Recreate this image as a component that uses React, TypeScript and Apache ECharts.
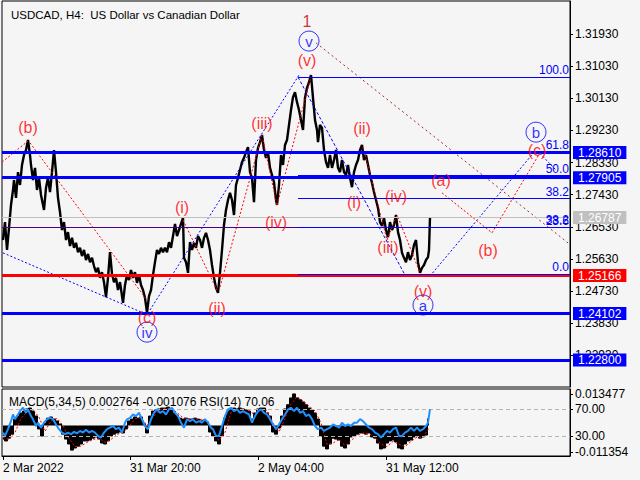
import React, { useEffect, useRef } from "react";
import * as echarts from "echarts";

const chartTitle = "USDCAD, H4:  US Dollar vs Canadian Dollar";
const indicatorTitle = "MACD(5,34,5) 0.002764 -0.001076 RSI(14) 70.06";

// time axis (bar positions) and labels
const dateTickBars = [3, 130, 258, 386];
const dateTickLabels = ["2 Mar 2022", "31 Mar 20:00", "2 May 04:00", "31 May 12:00"];
const priceTicks = [1.3193, 1.3103, 1.3013, 1.2923, 1.2833, 1.2743, 1.2653, 1.2563, 1.2473, 1.2383, 1.2293];
const firstBar = 2;
const lastBar = 570;

// price path [bar, price]
const pricePath: [number, number][] = [
  [3, 1.2616], [5, 1.2666], [7, 1.2588], [9, 1.265], [11, 1.2714], [13, 1.2756], [14, 1.2784], [16, 1.2734],
  [18, 1.2806], [20, 1.277], [22, 1.2826], [24, 1.2854], [26, 1.2868], [28, 1.2896], [30, 1.2854], [31, 1.2826],
  [33, 1.2784], [35, 1.2818], [37, 1.2756], [39, 1.279], [41, 1.2742], [43, 1.2714], [44, 1.27], [46, 1.2762],
  [48, 1.279], [50, 1.275], [52, 1.2806], [54, 1.2868], [56, 1.2806], [58, 1.2734], [60, 1.2694], [62, 1.2644],
  [64, 1.2666], [66, 1.2616], [68, 1.2638], [70, 1.2599], [72, 1.2622], [74, 1.2594], [76, 1.2608], [78, 1.2582],
  [80, 1.2594], [82, 1.2571], [84, 1.2588], [86, 1.256], [88, 1.2577], [90, 1.2554], [92, 1.2566], [94, 1.2543],
  [96, 1.2526], [98, 1.2538], [100, 1.251], [102, 1.2526], [104, 1.2498], [106, 1.2456], [108, 1.251], [110, 1.2582],
  [112, 1.2521], [114, 1.2498], [116, 1.251], [118, 1.2476], [120, 1.2498], [123, 1.244], [125, 1.249], [127, 1.2518],
  [129, 1.2504], [131, 1.2532], [133, 1.251], [135, 1.2526], [137, 1.2496], [139, 1.2518], [141, 1.249], [143, 1.2476],
  [145, 1.2454], [147, 1.2412], [149, 1.2459], [151, 1.2476], [153, 1.2518], [155, 1.2554], [157, 1.2588], [159, 1.2577],
  [161, 1.2594], [163, 1.2582], [165, 1.2594], [167, 1.2582], [169, 1.261], [171, 1.2594], [173, 1.2627], [175, 1.2661],
  [177, 1.2627], [179, 1.2644], [181, 1.2661], [183, 1.2678], [184, 1.2566], [186, 1.2554], [188, 1.2524], [190, 1.261],
  [192, 1.2588], [194, 1.2608], [196, 1.2594], [198, 1.2627], [200, 1.2616], [202, 1.2594], [204, 1.2622], [206, 1.2636],
  [208, 1.2616], [210, 1.2588], [212, 1.2546], [214, 1.251], [216, 1.2482], [218, 1.2468], [220, 1.2524], [222, 1.2588],
  [224, 1.2658], [226, 1.27], [228, 1.2728], [230, 1.2748], [232, 1.2728], [234, 1.2686], [236, 1.277], [238, 1.279],
  [240, 1.2812], [242, 1.2834], [244, 1.2846], [246, 1.2862], [248, 1.2876], [250, 1.2806], [252, 1.279], [254, 1.2722],
  [256, 1.284], [258, 1.2874], [260, 1.289], [262, 1.291], [264, 1.2868], [266, 1.2846], [268, 1.2862], [270, 1.2818],
  [272, 1.2798], [274, 1.2778], [276, 1.2728], [277, 1.2714], [279, 1.277], [281, 1.2854], [283, 1.2826], [285, 1.2882],
  [287, 1.2896], [289, 1.2938], [291, 1.298], [293, 1.3016], [295, 1.303], [297, 1.3002], [299, 1.298], [301, 1.2952],
  [303, 1.2924], [305, 1.3014], [307, 1.3042], [309, 1.3058], [311, 1.3078], [313, 1.3014], [315, 1.2952], [317, 1.2924],
  [318, 1.289], [320, 1.2938], [322, 1.293], [324, 1.2868], [326, 1.2834], [328, 1.2818], [330, 1.2854], [332, 1.2818],
  [334, 1.284], [336, 1.2868], [338, 1.2818], [340, 1.2806], [342, 1.284], [344, 1.2806], [346, 1.2798], [348, 1.2826],
  [350, 1.279], [352, 1.2764], [354, 1.2806], [356, 1.2826], [358, 1.284], [360, 1.2868], [362, 1.2882], [364, 1.284],
  [366, 1.2854], [368, 1.2826], [370, 1.2798], [372, 1.2776], [374, 1.275], [376, 1.2728], [378, 1.2706], [380, 1.2666],
  [382, 1.2655], [384, 1.2678], [386, 1.2644], [388, 1.2624], [390, 1.2666], [392, 1.2644], [394, 1.2658], [396, 1.2686],
  [398, 1.2638], [400, 1.2616], [402, 1.258], [404, 1.2566], [406, 1.2554], [408, 1.2582], [410, 1.256], [412, 1.2574],
  [414, 1.2602], [416, 1.2616], [418, 1.2554], [420, 1.2524], [422, 1.2538], [424, 1.2546], [426, 1.256], [428, 1.2568],
  [429, 1.2588], [430, 1.26787],
];

// horizontal levels
const levelPrices = [1.2861, 1.27905, 1.25166, 1.24102, 1.228];
const levelColors = ["#0000ff", "#0000ff", "#ff0000", "#0000ff", "#0000ff"];
const lastPrice = 1.26787;
const purpleLevel = 1.2653;
const purpleLevelText = "38.2";

// fibonacci grid
const fibStartBar = 298;
const fibEndBar = 570;
const fibLevels = [1.3072, 1.2862, 1.27965, 1.27315, 1.2651, 1.2521];
const fibLabels = ["100.0", "61.8", "50.0", "38.2", "23.6", "0.0"];

// wave lines
const blueWaves: [number, number][][] = [
  [[3, 1.258], [143, 1.2412]],
  [[150, 1.242], [300, 1.3082]],
  [[430, 1.2515], [533, 1.2858]],
  [[540, 1.2858], [556, 1.2812]],
];
const blueFallLine: [number, number][] = [[298, 1.3072], [405, 1.2518]];
const redWaves: [number, number][][] = [
  [[2, 1.2834], [28, 1.2893]],
  [[30, 1.2888], [147, 1.2448]],
  [[183, 1.2672], [218, 1.247]],
  [[220, 1.2484], [262, 1.291]],
  [[263, 1.2896], [277, 1.2714]],
  [[277, 1.2714], [311, 1.3072]],
  [[363, 1.2876], [387, 1.2616]],
  [[387, 1.2616], [397, 1.2686]],
  [[398, 1.268], [420, 1.2524]],
  [[442, 1.2748], [492, 1.2636], [540, 1.286]],
];
const channelLine: [number, number][] = [[316, 1.3168], [568, 1.2608]];

// wave labels
const redLabelText = ["(b)", "(c)", "(i)", "(ii)", "(iii)", "(iv)", "(v)", "(i)", "(ii)", "(iii)", "(iv)", "(v)", "(a)", "(b)", "(c)"];
const redLabelBar = [28, 147, 182, 217, 262, 276, 307, 354, 362, 388, 396, 423, 441, 488, 537];
const redLabelPrice = [1.2932, 1.2398, 1.2706, 1.2423, 1.2941, 1.2666, 1.312, 1.2722, 1.2927, 1.2596, 1.2739, 1.2473, 1.2784, 1.2588, 1.2868];
const degreeText = ["1"];
const degreeBar = [307];
const degreePrice = [1.3229];
const circleText = ["iv", "v", "a", "b"];
const circleBar = [147, 309, 423, 536];
const circlePrice = [1.2358, 1.3173, 1.2434, 1.2918];

// indicator panel
const macdHist = [
  -0.0058, -0.0066, -0.0054, -0.0037, 0.0027, 0.004, 0.0053, 0.0061, 0.007, 0.0074, 0.0061, 0.004, -0.0015, -0.0045,
  0.001, 0.0031, 0.0036, 0.0027, 0.0019, 0.0006, -0.0037, -0.0058, -0.0079, -0.0105, -0.0096, -0.0088, -0.0079, -0.0066,
  -0.0066, -0.0062, -0.0054, -0.0049, -0.0058, -0.0075, -0.0079, -0.0066, -0.0045, -0.0037, -0.0032, -0.0028, -0.0032,
  -0.0015, 0.0019, 0.0027, 0.0036, 0.0031, 0.0036, 0.0006, -0.0032, 0.004, 0.0061, 0.0066, 0.007, 0.0074, 0.0074, 0.0078,
  0.007, 0.0053, 0.0044, 0.0031, 0.0027, 0.0031, 0.0027, 0.0027, 0.0031, 0.0027, 0.0019, 0.0023, 0.0015, -0.0028, -0.0045,
  -0.0066, -0.0079, -0.0045, 0.0031, 0.0061, 0.007, 0.0074, 0.007, 0.0074, 0.007, 0.0066, 0.0061, 0.0027, 0.0053, 0.007,
  0.0074, 0.0074, 0.0053, 0.004, -0.0028, -0.0037, -0.0011, 0.004, 0.007, 0.0088, 0.0117, 0.0134, 0.0117, 0.0109, 0.01,
  0.0088, 0.0074, 0.0066, 0.0053, 0.0027, -0.0045, -0.0088, -0.01, -0.0079, -0.0054, -0.0058, -0.0062, -0.0088, -0.0096,
  -0.0079, -0.0049, -0.0045, -0.0037, -0.0032, -0.0032, -0.0037, -0.0032, -0.0049, -0.0054, -0.0075, -0.01, -0.0096,
  -0.0075, -0.0066, -0.0062, -0.007, -0.0096, -0.01, -0.0079, -0.0066, -0.0062, -0.0049, -0.0045, -0.0054, -0.0049,
  -0.0041, 0.0028,
];
const macdFirstBar = 3;
const macdBarStep = 3;
const macdSignal = [
  -0.005, -0.006, -0.003, 0.003, 0.0058, 0.0068, 0.0035, -0.0025, 0.002, 0.003, 0.0, -0.0055, -0.009, -0.0088, -0.0072,
  -0.006, -0.0054, -0.0072, -0.006, -0.0038, -0.003, -0.0005, 0.0028, 0.0033, 0.0, 0.0035, 0.0064, 0.0072, 0.0074, 0.0055,
  0.0033, 0.0028, 0.0028, 0.0025, 0.0018, -0.0025, -0.0065, -0.003, 0.0055, 0.007, 0.0071, 0.0063, 0.0045, 0.0068, 0.0065,
  0.001, -0.0028, 0.003, 0.009, 0.0122, 0.0105, 0.0082, 0.0062, 0.001, -0.008, -0.0075, -0.006, -0.0085, -0.0065, -0.0042,
  -0.0033, -0.0035, -0.005, -0.008, -0.009, -0.0068, -0.008, -0.009, -0.0068, -0.005, -0.005, -0.0011,
];
const signalStep = 6;
const rsiPath: [number, number][] = [
  [3, 34.9], [5, 30], [8, 40], [11, 52], [13, 62], [15, 55], [18, 62], [20, 67], [23, 72], [26, 64.5], [28, 69.5],
  [31, 59.6], [33, 54.7], [36, 44.8], [38, 49.7], [41, 42.3], [44, 49.7], [47, 54.7], [50, 57], [53, 55], [56, 47],
  [59, 40], [62, 35], [65, 32.5], [68, 35], [71, 32.5], [74, 36], [77, 34], [80, 37.4], [83, 35], [86, 39], [89, 35],
  [92, 37.4], [95, 35], [98, 30], [101, 27.5], [104, 35], [107, 40], [110, 42.3], [113, 44.8], [116, 40], [119, 42.3],
  [122, 35], [125, 49.7], [127, 54.7], [130, 57], [133, 62], [136, 59.6], [139, 64.5], [142, 54.7], [145, 44.8],
  [148, 40], [151, 55], [154, 64.5], [157, 69.5], [160, 64.5], [163, 67], [166, 62], [169, 69.5], [172, 72],
  [175, 64.5], [178, 59.6], [181, 49.7], [184, 42.3], [187, 54.7], [190, 52], [193, 54.7], [196, 49.7], [199, 52],
  [202, 49.7], [205, 55], [208, 49.7], [211, 42.3], [213, 40], [216, 30], [219, 30], [222, 44.8], [225, 59.6],
  [228, 69.5], [231, 72], [234, 67], [237, 69.5], [240, 64.5], [243, 67], [246, 64.5], [249, 62], [252, 49.7],
  [255, 59.6], [258, 67], [261, 69.5], [264, 64.5], [267, 62], [270, 55], [273, 47], [276, 40], [279, 47], [282, 55],
  [285, 62], [288, 69.5], [291, 72], [294, 67], [297, 72], [300, 64.5], [303, 67], [306, 59.6], [309, 62], [312, 55],
  [315, 44.8], [318, 40], [321, 42.3], [324, 37.4], [327, 40], [330, 42.3], [333, 47], [336, 44.8], [339, 42.3],
  [342, 49.7], [345, 44.8], [348, 47], [351, 44.8], [354, 49.7], [357, 49.7], [360, 55], [363, 52], [366, 47],
  [369, 42.3], [372, 40], [375, 35], [378, 32.5], [381, 27.5], [384, 32.5], [387, 37.4], [390, 35], [393, 40],
  [396, 42.3], [399, 30], [402, 30], [405, 35], [408, 37.4], [411, 42.3], [414, 37.4], [417, 42.3], [420, 37.4],
  [423, 40], [426, 44.8], [428, 49.7], [430, 70.06],
];
const rsiLevels = [70, 30];
const macdAxisLabels = [0.013477, -0.011354];

const FONT = "Liberation Sans";

export default function App() {
  const ref = useRef<HTMLDivElement>(null);
  useEffect(() => {
    if (!ref.current) return;
    const chart = echarts.init(ref.current, undefined, { renderer: "svg" });

    const boxLabel = (text: string, bg: string) => ({
      show: true,
      position: "end",
      formatter: text,
      backgroundColor: bg,
      color: "#ffffff",
      padding: [1, 5, 0, 5],
      distance: 3,
      fontSize: 12,
      lineHeight: 12,
      fontFamily: FONT,
    });
    const fibLabel = (text: string) => ({
      show: true,
      position: "insideEndTop",
      formatter: text,
      color: "#0000ff",
      fontSize: 12,
      fontFamily: FONT,
      distance: 1,
    });
    const hLine = (from: number, to: number, v: number, color: string, width: number, label: any) => [
      { coord: [from, v], lineStyle: { color, width, type: "solid" }, label },
      { coord: [to, v] },
    ];

    const markData: any[] = [];
    levelPrices.forEach((v, i) => {
      markData.push(hLine(firstBar, lastBar, v, levelColors[i], 3, boxLabel(v.toFixed(5), levelColors[i])));
    });
    markData.push(hLine(firstBar, lastBar, lastPrice, "#c0c0c0", 1, boxLabel(lastPrice.toFixed(5), "#c0c0c0")));
    markData.push(hLine(firstBar, lastBar, purpleLevel, "#4b0082", 1, fibLabel(purpleLevelText)));
    fibLevels.forEach((v, i) => {
      markData.push(hLine(fibStartBar, fibEndBar, v, "#0000ff", 1, fibLabel(fibLabels[i])));
    });

    const dotted = (data: [number, number][], color: string, dash: number[] = [2, 2]) => ({
      type: "line",
      xAxisIndex: 0,
      yAxisIndex: 0,
      data,
      symbol: "none",
      silent: true,
      lineStyle: { color, width: 1, type: dash },
      z: 4,
    });

    const textSeries = (texts: string[], bars: number[], prices: number[], color: string, size: number) => ({
      type: "scatter",
      xAxisIndex: 0,
      yAxisIndex: 0,
      symbol: "circle",
      symbolSize: 1,
      itemStyle: { color: "rgba(0,0,0,0)" },
      silent: true,
      z: 6,
      label: { show: true, position: "inside", formatter: "{b}", color, fontSize: size, fontFamily: FONT },
      data: texts.map((t, i) => ({ name: t, value: [bars[i], prices[i]] })),
    });

    const series: any[] = [
      {
        type: "line",
        xAxisIndex: 0,
        yAxisIndex: 0,
        data: pricePath,
        symbol: "none",
        silent: true,
        lineStyle: { color: "#000000", width: 2.4 },
        z: 3,
        markLine: { symbol: ["none", "none"], silent: true, data: markData, animation: false },
      },
      ...blueWaves.map((w) => dotted(w, "#0000ff")),
      dotted(blueFallLine, "#0000ff", [3, 2]),
      ...redWaves.map((w) => dotted(w, "#ff0000")),
      dotted(channelLine, "#a52a2a", [2, 3]),
      textSeries(redLabelText, redLabelBar, redLabelPrice, "#ff0000", 16),
      textSeries(degreeText, degreeBar, degreePrice, "#c00000", 16),
      {
        type: "scatter",
        xAxisIndex: 0,
        yAxisIndex: 0,
        symbol: "circle",
        symbolSize: 20,
        itemStyle: { color: "rgba(0,0,0,0)", borderColor: "#0000ff", borderWidth: 1 },
        silent: true,
        z: 6,
        label: { show: true, position: "inside", formatter: "{b}", color: "#0000ff", fontSize: 15, fontFamily: FONT },
        data: circleText.map((t, i) => ({ name: t, value: [circleBar[i], circlePrice[i]] })),
      },
      {
        type: "line",
        xAxisIndex: 1,
        yAxisIndex: 1,
        step: "middle",
        symbol: "none",
        silent: true,
        lineStyle: { color: "#000000", width: 1 },
        areaStyle: { color: "#000000", opacity: 1, origin: 0 },
        data: macdHist.map((v, i) => [macdFirstBar + i * macdBarStep, v]),
        z: 2,
      },
      {
        type: "line",
        xAxisIndex: 1,
        yAxisIndex: 1,
        symbol: "none",
        silent: true,
        lineStyle: { color: "#ff0000", width: 1, type: [2, 2] },
        data: macdSignal.map((v, i) => [macdFirstBar + i * signalStep, v]),
        z: 4,
      },
      {
        type: "line",
        xAxisIndex: 1,
        yAxisIndex: 2,
        symbol: "none",
        silent: true,
        lineStyle: { color: "#1e90ff", width: 2 },
        data: rsiPath,
        z: 5,
        markLine: {
          symbol: ["none", "none"],
          silent: true,
          label: { show: false },
          lineStyle: { color: "#b4b4b4", width: 1, type: [4, 3] },
          data: rsiLevels.map((v) => [{ coord: [firstBar, v] }, { coord: [lastBar, v] }]),
        },
      },
    ];

    chart.setOption({
      animation: false,
      backgroundColor: "#f5f5f5",
      textStyle: { fontFamily: FONT },
      title: [
        { text: chartTitle, left: 6, top: 4, textStyle: { fontSize: 11.5, fontWeight: "normal", color: "#000", fontFamily: FONT } },
        { text: indicatorTitle, left: 4, top: 391, textStyle: { fontSize: 12, fontWeight: "normal", color: "#000", fontFamily: FONT } },
      ],
      grid: [
        { left: 2, top: 1, width: 568, height: 386, show: true, borderColor: "#000", borderWidth: 1, backgroundColor: "transparent" },
        { left: 2, top: 389, width: 568, height: 67, show: true, borderColor: "#000", borderWidth: 1, backgroundColor: "transparent" },
      ],
      xAxis: [
        { type: "value", gridIndex: 0, min: firstBar, max: lastBar, show: false },
        {
          type: "value",
          gridIndex: 1,
          min: firstBar,
          max: lastBar,
          axisLine: { show: true, onZero: false, lineStyle: { color: "#000" } },
          axisTick: { show: true, customValues: dateTickBars, length: 4, lineStyle: { color: "#000" } },
          axisLabel: {
            customValues: dateTickBars,
            formatter: (v: number) => dateTickLabels[dateTickBars.indexOf(v)] ?? "",
            align: "left",
            margin: 6,
            color: "#000",
            fontSize: 12,
            fontFamily: FONT,
          },
          splitLine: { show: false },
        },
      ],
      yAxis: [
        {
          type: "value",
          gridIndex: 0,
          position: "right",
          min: 1.22044,
          max: 1.32852,
          axisLine: { show: true, lineStyle: { color: "#000" } },
          axisTick: { show: true, customValues: priceTicks, length: 3, lineStyle: { color: "#000" } },
          axisLabel: { customValues: priceTicks, formatter: (v: number) => v.toFixed(5), color: "#000", fontSize: 12, margin: 5, fontFamily: FONT },
          splitLine: { show: false },
        },
        {
          type: "value",
          gridIndex: 1,
          position: "right",
          min: -0.013,
          max: 0.0155,
          axisLine: { show: true, lineStyle: { color: "#000" } },
          axisTick: { show: true, customValues: macdAxisLabels, length: 3, lineStyle: { color: "#000" } },
          axisLabel: { customValues: macdAxisLabels, formatter: (v: number) => v.toFixed(6), color: "#000", fontSize: 12, margin: 5, fontFamily: FONT },
          splitLine: { show: false },
        },
        {
          type: "value",
          gridIndex: 1,
          position: "right",
          min: 0,
          max: 100,
          axisLine: { show: false },
          axisTick: { show: true, customValues: rsiLevels, length: 3, lineStyle: { color: "#000" } },
          axisLabel: { customValues: rsiLevels, formatter: (v: number) => v.toFixed(2), color: "#000", fontSize: 12, margin: 5, fontFamily: FONT },
          splitLine: { show: false },
        },
      ],
      series,
    });
    return () => chart.dispose();
  }, []);
  return <div ref={ref} style={{ position: "fixed", left: 0, top: 0, width: 640, height: 480 }} />;
}
